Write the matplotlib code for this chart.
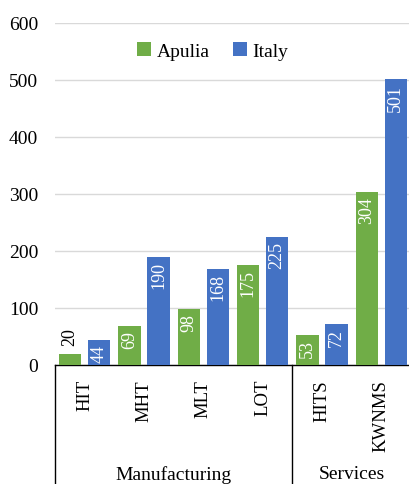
import matplotlib.pyplot as plt
import numpy as np

plt.rcParams['font.family'] = ['Liberation Serif', 'DejaVu Serif']

# data
categories = ["HIT", "MHT", "MLT", "LOT", "HITS", "KWNMS"]
groups = ["Manufacturing", "Services"]
group_sizes = [4, 2]
apulia = [20, 69, 98, 175, 53, 304]
italy = [44, 190, 168, 225, 72, 501]

green = "#70AD47"
blue = "#4472C4"

fig = plt.figure(figsize=(4.09, 4.85), dpi=100)
ax = fig.add_axes([55 / 409, 119 / 485, 356 / 409, 342 / 485])

x = np.arange(len(categories))
w = 0.38
off = 0.245
b1 = ax.bar(x - off, apulia, w, color=green, label="Apulia", zorder=3)
b2 = ax.bar(x + off, italy, w, color=blue, label="Italy", zorder=3)

# value labels: inside the top of the bar, or above it when the bar is too short
for bars in (b1, b2):
    for rect in bars:
        h = rect.get_height()
        cx = rect.get_x() + rect.get_width() / 2
        if h < 35:
            ax.annotate(f"{h:.0f}", (cx, h), xytext=(0, 6), textcoords="offset points",
                        rotation=90, ha="center", va="bottom", fontsize=13, color="black")
        else:
            ax.annotate(f"{h:.0f}", (cx, h), xytext=(0, -3), textcoords="offset points",
                        rotation=90, ha="center", va="top", fontsize=13, color="white")

ax.set_xlim(-0.5, len(categories) - 0.5)
ax.set_ylim(0, 600)
ax.set_yticks(range(0, 601, 100))
ax.tick_params(axis="y", length=0, pad=12, labelsize=14)
ax.yaxis.grid(True, color="#d9d9d9", linewidth=1, zorder=0)
ax.set_axisbelow(True)

ax.set_xticks(x)
ax.set_xticklabels(categories, rotation=90, va="top", fontsize=13.5)
ax.tick_params(axis="x", length=0, pad=10)

for s in ["left", "right", "top"]:
    ax.spines[s].set_visible(False)
ax.spines["bottom"].set_color("black")
ax.spines["bottom"].set_linewidth(1)

# group separators and group labels below the axis
trans = ax.get_xaxis_transform()
start = 0
edges = [-0.5]
for g, n in zip(groups, group_sizes):
    lo = start - 0.5
    hi = start + n - 0.5
    ax.text((lo + hi) / 2, -0.292, g, transform=trans, ha="center", va="top", fontsize=14)
    edges.append(hi)
    start += n
for e in edges:
    ax.plot([e, e], [0, -0.36], transform=trans, color="black", linewidth=1, clip_on=False)

fig.legend(handles=[b1, b2], labels=["Apulia", "Italy"], loc="center",
           bbox_to_anchor=(213 / 409, 1 - 52 / 485), ncol=2, frameon=False,
           fontsize=14, handlelength=0.7, handleheight=0.7, handletextpad=0.3,
           columnspacing=1.2)

fig.savefig("out.png", dpi=100)
